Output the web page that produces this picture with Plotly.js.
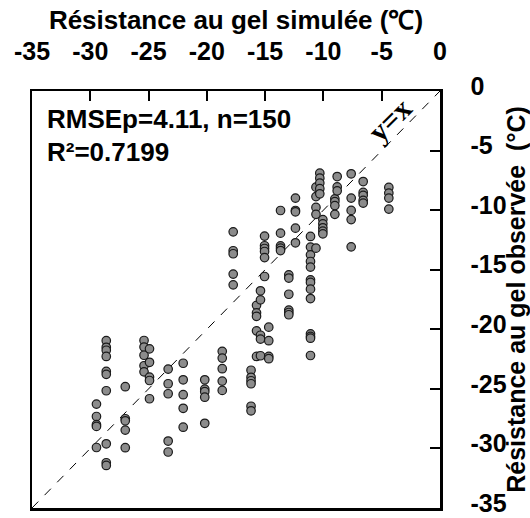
<!DOCTYPE html>
<html>
<head>
<meta charset="utf-8">
<script src="https://cdn.plot.ly/plotly-3.0.1.min.js"></script>
<style>html,body{margin:0;padding:0;background:#fff;}#chart{width:530px;height:518px;}</style>
</head>
<body>
<div id="chart"></div>
<script>
// Simulated frost resistance (x, °C)
const simulated = [
  -28.63,-28.63,-28.63,-28.63,-28.63,-28.63,-28.63,-28.63,-28.63,-28.63,
  -29.47,-29.47,-29.47,-29.47,-29.47,
  -27.00,-27.00,-27.00,-27.00,-27.00,
  -25.39,-25.39,-25.39,-25.39,-25.39,
  -24.92,-24.92,-24.92,-24.92,-24.92,
  -23.32,-23.32,-23.32,-23.32,-23.32,
  -22.03,-22.03,-22.03,-22.03,-22.03,
  -20.18,-20.18,-20.18,-20.18,-20.18,
  -18.68,-18.68,-18.68,-18.68,-18.68,
  -17.74,-17.74,-17.74,-17.74,-17.74,
  -16.21,-16.21,-16.21,-16.21,-16.21,-16.21,
  -15.74,-15.74,-15.74,-15.74,-15.74,
  -15.40,-15.40,-15.40,-15.40,-15.40,
  -15.05,-15.05,-15.05,-15.05,-15.05,-15.05,
  -14.69,-14.69,-14.69,-14.69,
  -13.68,-13.68,-13.68,-13.68,-13.68,
  -12.97,-12.97,-12.97,-12.97,-12.97,-12.97,
  -12.40,-12.40,-12.40,-12.40,-12.40,
  -11.11,-11.11,-11.11,-11.11,-11.11,-11.11,-11.11,-11.11,-11.11,-11.11,-11.11,-11.11,-11.11,
  -10.64,-10.64,-10.64,-10.64,-10.64,
  -10.31,-10.31,-10.31,-10.31,-10.31,
  -10.05,-10.05,-10.05,-10.05,-10.05,
  -9.02,-9.02,-9.02,-9.02,
  -8.82,-8.82,-8.82,
  -7.62,-7.62,-7.62,-7.62,-7.62,
  -6.59,-6.59,-6.59,-6.59,-6.59,
  -4.39,-4.39,-4.39,-4.39
];
// Observed frost resistance (y, °C)
const observed = [
  -20.96,-21.51,-21.76,-22.28,-23.54,-23.78,-25.16,-29.61,-31.20,-31.43,
  -26.28,-27.32,-28.01,-28.15,-29.92,
  -24.82,-27.51,-27.68,-28.46,-29.94,
  -20.94,-21.49,-22.18,-23.06,-23.57,
  -21.64,-22.77,-24.01,-24.30,-25.83,
  -23.34,-24.57,-25.41,-29.38,-30.30,
  -22.85,-24.24,-25.49,-26.63,-28.22,
  -24.24,-25.02,-25.24,-25.70,-27.89,
  -21.85,-22.42,-23.31,-24.35,-25.13,
  -11.82,-13.41,-13.66,-15.37,-16.27,
  -23.44,-24.03,-24.32,-24.57,-26.46,-26.84,
  -17.99,-18.62,-18.91,-20.13,-22.28,
  -16.77,-17.53,-20.50,-20.82,-22.22,
  -12.18,-12.99,-13.22,-13.47,-13.98,-15.57,
  -19.82,-20.96,-22.28,-22.47,
  -10.03,-11.93,-13.00,-13.19,-13.39,
  -15.43,-15.70,-17.06,-18.39,-18.59,-18.78,
  -8.99,-10.03,-10.14,-11.51,-12.74,
  -12.21,-13.10,-13.75,-14.31,-14.78,-15.85,-16.07,-16.63,-17.42,-20.38,-20.60,-20.75,-22.20,
  -8.07,-8.86,-9.77,-10.35,-13.19,
  -6.90,-7.32,-7.73,-8.20,-8.63,
  -10.79,-11.15,-11.48,-11.76,-11.99,
  -9.05,-9.28,-9.62,-10.35,
  -7.18,-8.05,-8.38,
  -6.95,-8.99,-10.02,-10.79,-13.08,
  -7.60,-8.51,-8.76,-9.18,-9.41,
  -8.09,-8.57,-8.99,-9.91
];
const identityLine = [-35, 0];
const axisTicks = [-35, -30, -25, -20, -15, -10, -5, 0];
const statsText = ["RMSEp=4.11, n=150", "R²=0.7199"];
const xTitle = "Résistance au gel simulée (℃)";
const yTitle = "Résistance au gel observée  (°C)";

const FONT = "Liberation Sans, Arial, Helvetica, sans-serif";
const b = s => "<b>" + s + "</b>";

const traces = [
  {
    x: identityLine, y: identityLine, type: "scatter", mode: "lines",
    line: {color: "#000", width: 1, dash: "dash"}, hoverinfo: "skip", showlegend: false
  },
  {
    x: simulated, y: observed, type: "scatter", mode: "markers",
    marker: {size: 8.5, color: "#8c8c8c", line: {color: "#1a1a1a", width: 1.2}},
    showlegend: false
  }
];

const axisCommon = {
  range: [-35, 0], tickvals: axisTicks, ticktext: axisTicks.map(v => b(String(v))),
  showgrid: false, zeroline: false, showline: true, mirror: true,
  linecolor: "#000", linewidth: 2.5, ticks: "inside", ticklen: 10, tickwidth: 2,
  tickcolor: "#000", fixedrange: true, ticklabeloverflow: "allow",
  tickfont: {family: FONT, size: 25, color: "#000"}
};

const layout = {
  width: 530, height: 518,
  margin: {l: 32, r: 90, t: 91, b: 10},
  paper_bgcolor: "#fff", plot_bgcolor: "#fff",
  showlegend: false,
  xaxis: Object.assign({}, axisCommon, {
    side: "top", ticklabelstandoff: 19,
    title: {text: b(xTitle), standoff: 0, font: {family: FONT, size: 26, color: "#000"}}
  }),
  yaxis: Object.assign({}, axisCommon, {
    side: "right", ticklabelstandoff: 23, ticklabelshift: -5,
    title: {text: b(yTitle), standoff: 0, font: {family: FONT, size: 25, color: "#000"}}
  }),
  annotations: [
    {xref: "paper", yref: "paper", x: 0.033, y: 0.933, xanchor: "left", yanchor: "middle",
     text: b(statsText[0]), showarrow: false, font: {family: FONT, size: 26, color: "#000"}},
    {xref: "paper", yref: "paper", x: 0.033, y: 0.854, xanchor: "left", yanchor: "middle",
     text: b(statsText[1]), showarrow: false, font: {family: FONT, size: 26, color: "#000"}},
    {xref: "x", yref: "y", x: -4.3, y: -2.4, text: b("y=x"), showarrow: false, textangle: -45,
     font: {family: "Liberation Serif, Times New Roman, serif", size: 30, color: "#000"}}
  ]
};

Plotly.newPlot("chart", traces, layout, {displayModeBar: false, staticPlot: true});
</script>
</body>
</html>
